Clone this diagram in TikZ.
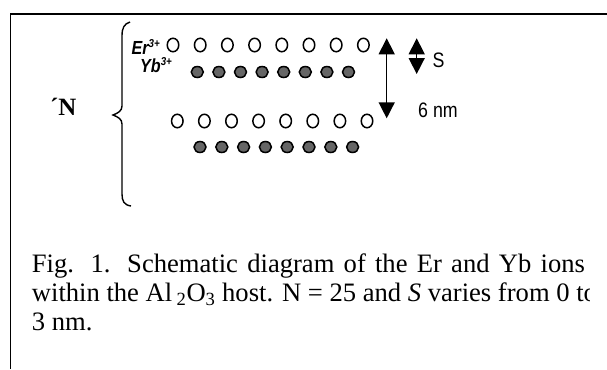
\documentclass[tikz,border=0pt]{standalone}
\usepackage{fontspec}
\setmainfont{Liberation Serif}
\newfontfamily\narrowsans[FakeStretch=0.85]{Liberation Sans}
\usepackage{xcolor}
\usepackage{tikz}
\usetikzlibrary{arrows.meta, shapes.geometric}
\definecolor{ybgray}{HTML}{666666}
\newcommand{\chargesup}[1]{\raisebox{0.36em}{\fontsize{11.5}{11.5}\selectfont #1}}
\tikzset{
  erion/.style={draw, ellipse, line width=1.5bp, minimum width=11.5bp, minimum height=13.5bp, inner sep=0pt},
  ybion/.style={draw, ellipse, fill=ybgray, line width=1.5bp, minimum width=12bp, minimum height=11bp, inner sep=0pt},
  dimarrow/.style={line width=1.5bp, {Triangle[length=16bp,width=16bp]}-{Triangle[length=16bp,width=16bp]}},
  ionlabel/.style={font=\narrowsans\bfseries\itshape\fontsize{19}{19}\selectfont, anchor=base west, inner sep=0pt},
  sanslabel/.style={font=\narrowsans\fontsize{21}{21}\selectfont, anchor=base west, inner sep=0pt},
  captionline/.style={font=\fontsize{26.7}{29.5}\selectfont, anchor=base west, inner sep=0pt}
}

\begin{document}
\begin{tikzpicture}[x=1bp, y=-1bp]
\useasboundingbox (0,0) rectangle (607,369);
\fill[white] (0,0) rectangle (607,369);
\draw[line width=1.5bp] (607,14) -- (10.5,14) -- (10.5,369);
\draw[line width=1.4bp] (130,22) .. controls (124,24) and (122,28) .. (122,36) -- (122,106)
  .. controls (122,111) and (118,113) .. (113,115) .. controls (118,117) and (122,119) .. (122,124)
  -- (122,194) .. controls (122,201) and (124,205) .. (131,206);
\node[font=\bfseries\fontsize{25}{25}\selectfont, anchor=base west, inner sep=0pt] (nlabel) at (50,115.5) {´N};
\node[ionlabel] (erlabel) at (131.5,54.5) {Er\chargesup{3+}};
\node[ionlabel] (yblabel) at (140,72.5) {Yb\chargesup{3+}};
\foreach \i in {0,...,7} {
  \node[erion] (erA\i) at ({173+27.2*\i},45) {};
  \node[ybion] (ybA\i) at ({197.3+21.6*\i},72) {};
  \node[erion] (erB\i) at ({177.3+27.1*\i},121) {};
  \node[ybion] (ybB\i) at ({200+21.8*\i},147) {};
}
\coordinate (sixtop) at (386.7,38.3);
\coordinate (sixbot) at (386.7,118.3);
\draw[dimarrow] (sixtop) -- (sixbot);
\coordinate (stop) at (416.7,38.3);
\coordinate (sbot) at (416.7,74);
\draw[dimarrow] (stop) -- (sbot);
\node[sanslabel] (slabel) at (432.5,67) {S};
\node[sanslabel] (sixlabel) at (418,117) {6 nm};
\begin{scope}
\clip (0,240) rectangle (589,369);
\node[captionline] (capA) at (31.7,272.3) {\makebox[553bp][s]{Fig. 1. Schematic diagram of the Er and Yb ions}};
\node[captionline] (capB) at (31.7,301.7) {within the Al\,\textsubscript{2}O\textsubscript{3} host. N = 25 and \textit{S} varies from 0 to};
\node[captionline] (capC) at (31.7,330.7) {3 nm.};
\end{scope}
\end{tikzpicture}
\end{document}
